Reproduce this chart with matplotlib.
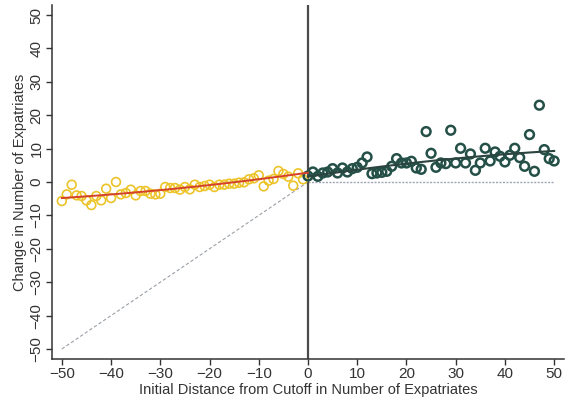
import numpy as np
import matplotlib
matplotlib.use("Agg")
import matplotlib.pyplot as plt

plt.rcParams['font.family'] = ['Liberation Sans', 'DejaVu Sans']

# Data
x_left = list(range(-50, 0))
y_left = [-5.7, -3.7, -0.8, -4.0, -4.2, -5.5, -6.9, -4.2, -5.5, -2.0,
          -4.8, 0.0, -3.7, -3.3, -2.3, -4.0, -2.7, -2.7, -3.5, -3.7,
          -3.5, -1.5, -1.8, -1.8, -2.3, -1.5, -2.2, -0.8, -1.5, -1.2,
          -0.8, -1.5, -0.8, -0.8, -0.5, -0.5, -0.2, -0.1, 0.8, 1.1,
          2.0, -1.3, 0.4, 0.9, 3.3, 2.4, 1.6, -1.1, 2.6, 0.8]

x_right = list(range(0, 51))
y_right = [1.8, 3.0, 1.7, 2.7, 3.0, 4.0, 2.7, 4.2, 3.0, 4.0,
           4.4, 5.7, 7.5, 2.5, 2.7, 2.9, 3.2, 4.7, 7.0, 5.7,
           5.7, 6.2, 4.2, 3.8, 15.1, 8.6, 4.4, 5.7, 5.5, 15.5,
           5.7, 10.1, 5.7, 8.4, 3.5, 5.7, 10.1, 6.3, 9.0, 7.7,
           6.0, 8.0, 10.1, 7.3, 4.7, 14.2, 3.2, 23.0, 9.7, 7.0, 6.3]

# Fitted lines
fit_left_x = [-50, -25, 0]
fit_left_y = [-4.8, -1.7, 2.8]
fit_right_x = [0, 25, 50]
fit_right_y = [1.6, 6.3, 9.3]

xticks = [-50, -40, -30, -20, -10, 0, 10, 20, 30, 40, 50]
yticks = [-50, -40, -30, -20, -10, 0, 10, 20, 30, 40, 50]

fig = plt.figure(figsize=(5.81, 4.04), dpi=100)
ax = fig.add_axes([0.0895, 0.1114, 0.8812, 0.8762])

ax.plot([-50, 0], [-50, 0], color='#9aa0a8', lw=0.8, ls=(0, (3, 2)), zorder=1)
ax.plot([0, 50], [0, 0], color='#a0a6b4', lw=1.0, ls=(0, (1.5, 1)), zorder=1)
ax.axvline(0, color='#4a4a4a', lw=1.6, zorder=2)

ax.scatter(x_left, y_left, s=40, facecolors='none', edgecolors='#ecc42a',
           linewidths=1.2, zorder=3)
ax.scatter(x_right, y_right, s=40, facecolors='none', edgecolors='#245048',
           linewidths=1.8, zorder=3)

xl = np.linspace(-50, 0, 100)
ax.plot(xl, np.polyval(np.polyfit(fit_left_x, fit_left_y, 2), xl),
        color='#d5402a', lw=1.4, zorder=4)
xr = np.linspace(0, 50, 100)
ax.plot(xr, np.polyval(np.polyfit(fit_right_x, fit_right_y, 2), xr),
        color='#2c4440', lw=1.5, zorder=4)

ax.set_xlim(-52, 52)
ax.set_ylim(-53, 53)
ax.set_xticks(xticks)
ax.set_yticks(yticks)
ax.set_yticklabels([str(t).replace('-', '\u2212') for t in yticks], rotation=90, va='center')
ax.set_xticklabels([str(t).replace('-', '\u2212') for t in xticks])
ax.tick_params(axis='both', direction='out', length=4, width=1, colors='#333333',
               labelsize=11, labelcolor='#333333', pad=2)

for s in ['top', 'right']:
    ax.spines[s].set_visible(False)
for s in ['left', 'bottom']:
    ax.spines[s].set_color('#333333')
    ax.spines[s].set_linewidth(1.1)

ax.set_xlabel('Initial Distance from Cutoff in Number of Expatriates',
              fontsize=10.5, color='#333333', labelpad=1)
ax.set_ylabel('Change in Number of Expatriates', fontsize=10.5,
              color='#333333', labelpad=2)

fig.savefig('out.png', dpi=100)
